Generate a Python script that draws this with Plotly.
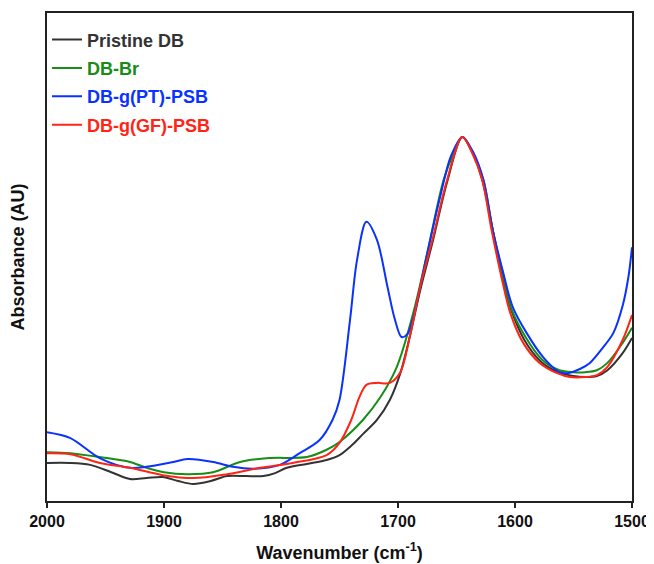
import plotly.graph_objects as go

# Wavenumbers (cm-1) and absorbance (arbitrary units) per series
wn_pristine = [2000, 1980, 1963, 1945, 1929, 1915, 1901, 1888, 1875, 1860, 1846, 1830, 1815, 1805, 1795,
               1778, 1761, 1750, 1740, 1730, 1718, 1707, 1698, 1690, 1681, 1670, 1658, 1645, 1636, 1628,
               1619, 1611, 1603, 1592, 1578, 1563, 1550, 1540, 1530, 1521, 1508, 1500]
abs_pristine = [0.078, 0.078, 0.074, 0.059, 0.045, 0.047, 0.049, 0.041, 0.035, 0.041, 0.051, 0.051, 0.051,
                0.057, 0.068, 0.076, 0.084, 0.094, 0.113, 0.137, 0.166, 0.207, 0.262, 0.336, 0.432, 0.535,
                0.654, 0.746, 0.712, 0.658, 0.555, 0.458, 0.390, 0.330, 0.286, 0.264, 0.256, 0.254, 0.256,
                0.268, 0.303, 0.334]

wn_br = [2000, 1980, 1955, 1929, 1915, 1900, 1880, 1858, 1835, 1810, 1778, 1761, 1750, 1730, 1715, 1701,
         1687, 1675, 1661, 1652, 1645, 1636, 1627, 1619, 1610, 1603, 1591, 1577, 1562, 1550, 1540, 1530,
         1521, 1508, 1500]
abs_br = [0.100, 0.098, 0.090, 0.080, 0.068, 0.059, 0.055, 0.059, 0.080, 0.088, 0.090, 0.105, 0.121, 0.166,
          0.213, 0.275, 0.385, 0.508, 0.658, 0.715, 0.746, 0.713, 0.658, 0.555, 0.462, 0.393, 0.336, 0.290,
          0.268, 0.264, 0.264, 0.268, 0.283, 0.324, 0.355]

wn_pt = [2000, 1980, 1955, 1929, 1915, 1892, 1880, 1858, 1841, 1824, 1801, 1784, 1767, 1756, 1750, 1741,
         1735, 1727, 1718, 1709, 1703, 1697, 1692, 1686, 1675, 1664, 1655, 1645, 1636, 1627, 1619, 1610,
         1602, 1590, 1576, 1562, 1555, 1545, 1536, 1525, 1516, 1508, 1503, 1500]
abs_pt = [0.141, 0.129, 0.088, 0.068, 0.070, 0.080, 0.086, 0.080, 0.070, 0.066, 0.074, 0.098, 0.125, 0.166,
          0.207, 0.371, 0.494, 0.572, 0.535, 0.439, 0.375, 0.336, 0.342, 0.385, 0.508, 0.623, 0.705, 0.746,
          0.716, 0.658, 0.555, 0.467, 0.398, 0.344, 0.295, 0.264, 0.262, 0.270, 0.283, 0.314, 0.344, 0.400,
          0.460, 0.520]

wn_gf = [2000, 1980, 1955, 1929, 1901, 1875, 1846, 1818, 1790, 1761, 1750, 1740, 1733, 1727, 1718, 1707,
         1698, 1690, 1681, 1670, 1658, 1645, 1636, 1628, 1620, 1611, 1604, 1593, 1579, 1564, 1553, 1540,
         1530, 1521, 1508, 1500]
abs_gf = [0.098, 0.096, 0.078, 0.068, 0.053, 0.047, 0.055, 0.068, 0.078, 0.094, 0.119, 0.166, 0.213, 0.238,
          0.242, 0.242, 0.264, 0.336, 0.439, 0.541, 0.658, 0.746, 0.710, 0.658, 0.555, 0.453, 0.385, 0.324,
          0.283, 0.262, 0.254, 0.254, 0.258, 0.275, 0.330, 0.381]

series_names = ["Pristine DB", "DB-Br", "DB-g(PT)-PSB", "DB-g(GF)-PSB"]
series_colors = ["#333333", "#178c17", "#0a32ff", "#ff2414"]
series_x = [wn_pristine, wn_br, wn_pt, wn_gf]
series_y = [abs_pristine, abs_br, abs_pt, abs_gf]

x_ticks = [2000, 1900, 1800, 1700, 1600, 1500]

FONT = "Liberation Sans, Arial, sans-serif"

fig = go.Figure()
for i, (name, col, xs, ys) in enumerate(zip(series_names, series_colors, series_x, series_y)):
    fig.add_trace(go.Scatter(
        x=xs, y=ys, mode="lines",
        line=dict(color=col, width=2, shape="spline", smoothing=0.9),
        name=f"<b><span style='color:{col}'>{name}</span></b>",
        legendgroup=f"g{i}",
    ))

# The page body adds an 8px offset; margins compensate so the plot area sits where the reference's does.
fig.update_layout(
    width=654, height=564,
    margin=dict(l=39, r=30, t=5, b=71),
    paper_bgcolor="white", plot_bgcolor="white",
    font=dict(family=FONT, color="#111111"),
    showlegend=True,
    legend=dict(x=0.0, y=0.983, xanchor="left", yanchor="top",
                bgcolor="rgba(0,0,0,0)", font=dict(size=18, family=FONT),
                tracegroupgap=2, itemwidth=30),
)
fig.update_xaxes(
    range=[2000, 1500], tickvals=x_ticks, ticktext=[str(t) for t in x_ticks],
    showgrid=False, zeroline=False, automargin=False,
    showline=True, mirror=True, linecolor="#222222", linewidth=2,
    ticks="outside", ticklen=5, tickwidth=2, tickcolor="#222222",
    tickfont=dict(size=16, color="#111111", family=FONT, weight="bold"),
    title=dict(text="<b>Wavenumber (cm<sup>-1</sup>)</b>", font=dict(size=18, family=FONT), standoff=17),
)
fig.update_yaxes(
    range=[0, 1], showticklabels=False, ticks="",
    showgrid=False, zeroline=False, automargin=False,
    showline=True, mirror=True, linecolor="#222222", linewidth=2,
    title=dict(text="<b>Absorbance (AU)</b>", font=dict(size=18, family=FONT), standoff=16),
)

fig.write_html("out.html")
